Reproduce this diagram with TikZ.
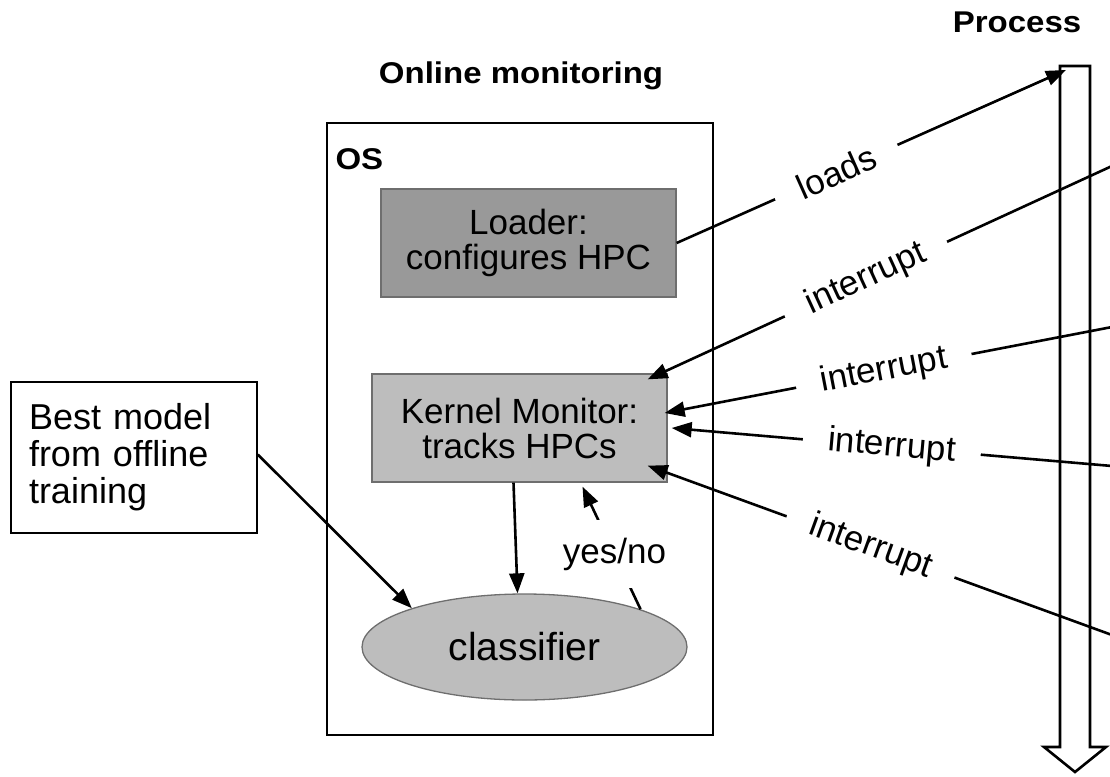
\documentclass[tikz,border=0pt]{standalone}
\usepackage{fontspec}
\setmainfont{Liberation Sans}
\newfontfamily\headfont[FakeStretch=1.1]{Liberation Sans}
\usetikzlibrary{arrows.meta,shapes.geometric}
\definecolor{loadergray}{HTML}{999999}
\definecolor{monitorgray}{HTML}{BDBDBD}
\definecolor{edgegray}{HTML}{6E6E6E}

\begin{document}
\begin{tikzpicture}[x=1pt,y=-1pt,
        head/.style={font=\headfont\bfseries\fontsize{30}{32}\selectfont},
        txt/.style={font=\fontsize{35}{35}\selectfont},
        graybox/.style={draw=edgegray,line width=1.3pt,minimum width=295pt,
            minimum height=108pt,align=center,txt},
        conn/.style={line width=2.6pt,-{Triangle[length=20pt,width=15pt]}},
        lbl/.style={txt,fill=white,sloped,inner xsep=25pt,inner ysep=2pt}]
    \useasboundingbox (0,0) rectangle (1110,776);

    \node[head,anchor=base] (proc) at (1017,33) {Process};
    \node[head,anchor=base] (online) at (521,83) {Online monitoring};

    \node[draw,line width=2.6pt,minimum width=386pt,minimum height=612pt] (os) at (520,429) {};
    \node[head,anchor=base west] (ostitle) at (332,169) {OS};

    \node[graybox,fill=loadergray] (loader) at (528.5,243) {Loader:\\configures HPC};
    \node[graybox,fill=monitorgray] (kern) at (519.5,428) {Kernel Monitor:\\tracks HPCs};
    \node[ellipse,draw=edgegray,line width=1.3pt,fill=monitorgray,minimum width=325pt,
        minimum height=106pt,font=\fontsize{39}{40}\selectfont] (clf) at (524.5,647) {classifier};
    \node[draw,line width=1.6pt,minimum height=151pt,text width=210pt,inner xsep=18pt,
        align=left,font=\fontsize{36}{37}\selectfont] (best) at (134,457.5)
        {Best model\\from offline\\training};

    % process time line
    \draw[line width=2.6pt] (1060,66) -- (1090,66) -- (1090,747) -- (1106,747)
        -- (1075,772) -- (1044,747) -- (1060,747) -- cycle;
    \coordinate (pload) at (1066,70);
    \coordinate (irq1) at (1112,166);
    \coordinate (irq2) at (1112,327);
    \coordinate (irq3) at (1112,466);
    \coordinate (irq4) at (1112,635);

    \draw[conn] (loader.east) -- node[lbl,pos=.41] {loads} (pload);
    \draw[conn] (irq1) -- node[lbl,pos=.53] {interrupt} ([xshift=-20pt,yshift=-6pt]kern.north east);
    \draw[conn] (irq2) -- node[lbl,pos=.51] {interrupt} ([xshift=-3pt,yshift=15pt]kern.east);
    \draw[conn] (irq3) -- node[lbl,pos=.5] {interrupt} ([xshift=4pt]kern.east);
    \draw[conn] (irq4) -- node[lbl,pos=.52] {interrupt} ([xshift=-20pt,yshift=17pt]kern.south east);

    \draw[conn] ([yshift=3pt]best.east) -- (clf.161);
    \draw[conn] ([xshift=-6pt]kern.south) -- ([xshift=-7pt]clf.north);
    \draw[conn] (clf.18) -- node[txt,fill=white,inner xsep=2pt,inner ysep=18pt,pos=.45] {yes/no}
        ([xshift=63pt,yshift=-4pt]kern.south);
\end{tikzpicture}
\end{document}
